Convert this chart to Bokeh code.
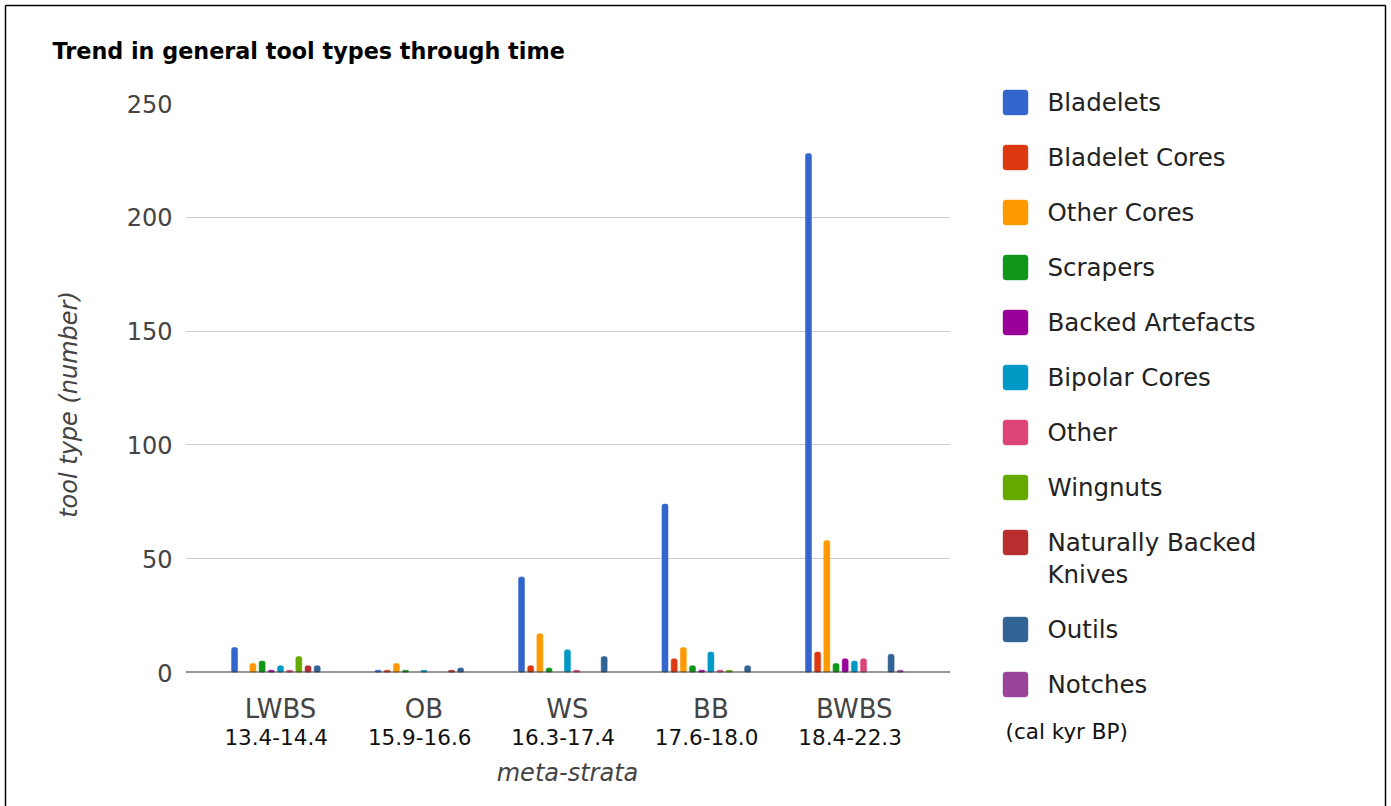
from bokeh.plotting import figure
from bokeh.models import ColumnDataSource, Range1d, FixedTicker, Span
from bokeh.core.properties import value
from bokeh.embed import file_html
from bokeh.resources import INLINE

# --- data -------------------------------------------------------------
strata = ["LWBS", "OB", "WS", "BB", "BWBS"]
ages = ["13.4-14.4", "15.9-16.6", "16.3-17.4", "17.6-18.0", "18.4-22.3"]

legend_labels = ["Bladelets", "Bladelet Cores", "Other Cores", "Scrapers",
                 "Backed Artefacts", "Bipolar Cores", "Other", "Wingnuts",
                 "Naturally Backed|Knives", "Outils", "Notches"]

bladelets = [11, 1, 42, 74, 228]
bladelet_cores = [0, 1, 3, 6, 9]
other_cores = [4, 4, 17, 11, 58]
scrapers = [5, 1, 2, 3, 4]
backed_artefacts = [1, 0, 0, 1, 6]
bipolar_cores = [3, 1, 10, 9, 5]
other = [1, 0, 1, 1, 6]
wingnuts = [7, 0, 0, 1, 0]
naturally_backed_knives = [3, 1, 0, 0, 0]
outils = [3, 2, 7, 3, 8]
notches = [0, 0, 0, 0, 1]

series = [bladelets, bladelet_cores, other_cores, scrapers, backed_artefacts,
          bipolar_cores, other, wingnuts, naturally_backed_knives, outils,
          notches]
colors = ["#3366cc", "#dc3912", "#ff9900", "#109618", "#990099", "#0099c6",
          "#dd4477", "#66aa00", "#b82e2e", "#316395", "#994499"]

y_ticks = [0, 50, 100, 150, 200, 250]

# --- layout constants --------------------------------------------------
W, H = 1391, 806
FRAME_L, FRAME_R, FRAME_T, FRAME_B = 185, 950, 103, 672
SERIES_STEP = 0.064
BAR_W = 0.042
FONT = "DejaVu Sans"

p = figure(width=W, height=H, output_backend="svg", toolbar_location=None,
           x_range=Range1d(-0.662, 4.67), y_range=Range1d(0, 250),
           min_border_left=FRAME_L, min_border_right=W - FRAME_R,
           min_border_top=FRAME_T, min_border_bottom=H - FRAME_B)
p.outline_line_color = None
p.background_fill_color = "white"
p.border_fill_color = "white"

# pixel-space ranges for the decorations around the plot area
p.extra_x_ranges["px"] = Range1d(FRAME_L, FRAME_R)
p.extra_y_ranges["px"] = Range1d(FRAME_B, FRAME_T)

# axes
p.xaxis.visible = False
p.xgrid.visible = False
p.yaxis.ticker = FixedTicker(ticks=y_ticks)
p.yaxis.axis_line_color = None
p.yaxis.major_tick_line_color = None
p.yaxis.minor_tick_line_color = None
p.yaxis.major_label_text_font = FONT
p.yaxis.major_label_text_font_size = "24px"
p.yaxis.major_label_text_color = "#444444"
p.yaxis.major_label_standoff = 7
p.ygrid.ticker = FixedTicker(ticks=y_ticks)
p.ygrid.grid_line_color = "#cccccc"
p.ygrid.grid_line_width = 1

# bars (zero counts are left out)
n = len(series)
for k, (vals, col) in enumerate(zip(series, colors)):
    off = (k - (n - 1) / 2) * SERIES_STEP
    pts = [(i + off, v) for i, v in enumerate(vals) if v > 0]
    src = ColumnDataSource(dict(x=[a for a, _ in pts], top=[b for _, b in pts]))
    p.vbar(x="x", top="top", bottom=0, width=BAR_W, source=src,
           fill_color=col, line_color=col, line_alpha=0.5, line_width=1,
           border_radius=2)

# baseline
p.add_layout(Span(location=0, dimension="width", line_color="#333333",
                  line_width=2))


def txt(x, y, s, size, color, style="normal", align="left",
        baseline="middle", angle=0.0, xr="px"):
    p.text(x=[x], y=[y], text=[s], x_range_name=xr, y_range_name="px",
           text_font=value(FONT), text_font_size=value(size),
           text_font_style=style, text_color=color, text_align=align,
           text_baseline=baseline, angle=angle, level="overlay")


# title
txt(52, 50, "Trend in general tool types through time", "22.3px", "#000000",
    style="bold", baseline="alphabetic")

# axis titles
txt(68, 404, "tool type (number)", "24px", "#444444", style="italic",
    align="center", angle=1.5707963)
txt(567, 772, "meta-strata", "24px", "#444444", style="italic",
    align="center")

# category labels with their age ranges
for i, (name, age) in enumerate(zip(strata, ages)):
    txt(i, 708, name, "26px", "#444444", align="center",
        baseline="alphabetic", xr="default")
    txt(i - 0.03, 736, age, "21.5px", "#111111", align="center",
        baseline="alphabetic", xr="default")

# legend
row_y = []
y = 102
for lab in legend_labels:
    row_y.append(y)
    y += 55 + 32 * lab.count("|")
p.rect(x=[1015] * n, y=row_y, width=25, height=25, width_units="screen",
       height_units="screen", x_range_name="px", y_range_name="px",
       fill_color=colors, line_color=colors, line_alpha=0.4,
       border_radius=3, level="overlay")
for lab, yy in zip(legend_labels, row_y):
    for j, part in enumerate(lab.split("|")):
        txt(1047, yy + 32 * j, part, "24.5px", "#222222")
txt(1005, 731, "(cal kyr BP)", "21.5px", "#111111")

# frame around the whole chart
p.segment(x0=[5, 5, 1385], y0=[5, 5, 5], x1=[1385, 5, 1385],
          y1=[5, 806, 806], x_range_name="px", y_range_name="px",
          line_color="#000000", line_width=1.5, level="overlay")

open("out.html", "w").write(file_html(p, INLINE))
